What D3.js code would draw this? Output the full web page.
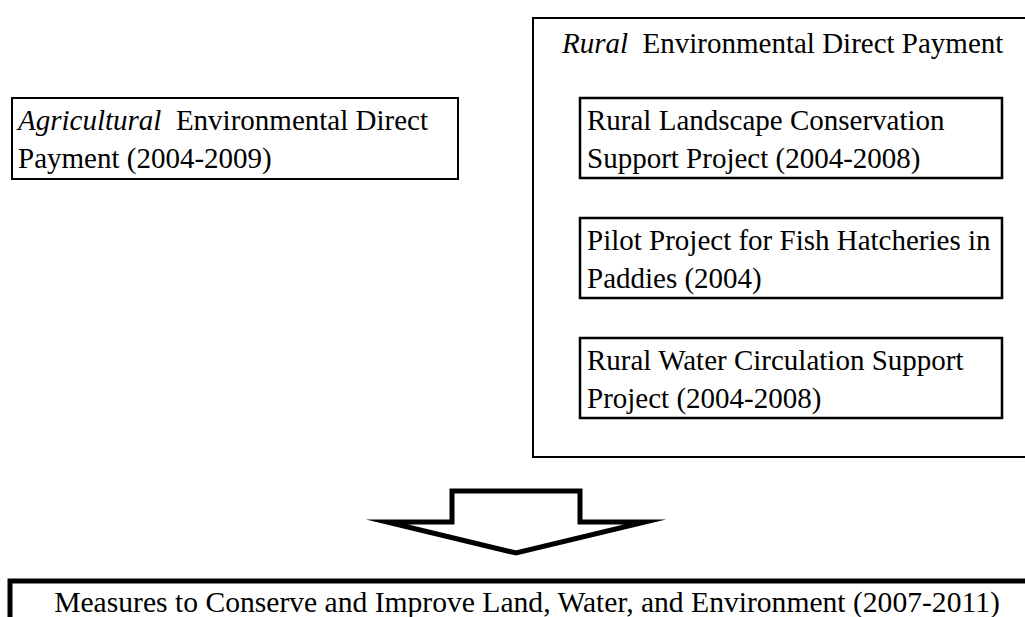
<!DOCTYPE html>
<html>
<head>
<meta charset="utf-8">
<script src="https://cdn.jsdelivr.net/npm/d3@7"></script>
<style>
    body { margin: 0; background: #fff; }
    text { font-family: "Liberation Serif", "Times New Roman", serif; font-size: 29px; fill: #000; }
</style>
</head>
<body>
<div id="diagram"></div>
<script>
// left-hand programme (first word italic)
const agriLines = [
    [{ t: "Agricultural", it: true }, { t: "  Environmental Direct", it: false }],
    [{ t: "Payment (2004-2009)", it: false }]
];

// right-hand group heading
const ruralTitle = [{ t: "Rural", it: true }, { t: "  Environmental Direct Payment", it: false }];

// projects inside the rural group
const ruralProjects = [
    ["Rural Landscape Conservation", "Support Project (2004-2008)"],
    ["Pilot Project for Fish Hatcheries in", "Paddies (2004)"],
    ["Rural Water Circulation Support", "Project (2004-2008)"]
];

// successor measure
const successor = "Measures to Conserve and Improve Land, Water, and Environment (2007-2011)";

const width = 1025;
const height = 617;

const svg = d3.select("#diagram")
    .append("svg")
    .attr("width", width)
    .attr("height", height);

function addLine(g, parts, x, y) {
    const t = g.append("text")
        .attr("x", x)
        .attr("y", y)
        .attr("xml:space", "preserve")
        .style("white-space", "pre");
    parts.forEach(p => {
        t.append("tspan")
            .style("font-style", p.it ? "italic" : "normal")
            .text(p.t);
    });
}

// Agricultural box
const agri = svg.append("g");
agri.append("rect")
    .attr("x", 12).attr("y", 98)
    .attr("width", 446).attr("height", 81)
    .attr("fill", "none").attr("stroke", "#000").attr("stroke-width", 2);
agriLines.forEach((parts, i) => addLine(agri, parts, 18, 130 + i * 38));

// Rural outer box, open on the right
const rural = svg.append("g");
rural.append("path")
    .attr("d", "M1030,18 H533 V457 H1030")
    .attr("fill", "none").attr("stroke", "#000").attr("stroke-width", 2);
addLine(rural, ruralTitle, 562, 53);

const yBox = d3.scalePoint()
    .domain(d3.range(ruralProjects.length))
    .range([98, 338]);

const proj = rural.selectAll(".proj")
    .data(ruralProjects)
    .enter().append("g")
    .attr("class", "proj")
    .attr("transform", (d, i) => `translate(580,${yBox(i)})`);

proj.append("rect")
    .attr("width", 422).attr("height", 80)
    .attr("fill", "none").attr("stroke", "#000").attr("stroke-width", 2.5);

proj.selectAll("text")
    .data(d => d)
    .enter().append("text")
    .attr("x", 7)
    .attr("y", (d, i) => 32 + i * 38)
    .text(d => d);

// Block arrow pointing down
const cx = 516;
const arrow = [
    [cx - 64, 491], [cx + 64, 491], [cx + 64, 522], [cx + 129, 522],
    [cx, 553], [cx - 129, 522], [cx - 64, 522]
];
svg.append("path")
    .attr("d", d3.line()(arrow) + "Z")
    .attr("fill", "#fff")
    .attr("stroke", "#000")
    .attr("stroke-width", 5)
    .attr("stroke-linejoin", "miter")
    .attr("stroke-miterlimit", 12);

// Successor box (cut off by the bottom edge)
svg.append("path")
    .attr("d", "M10,630 V581 H1035")
    .attr("fill", "none").attr("stroke", "#000").attr("stroke-width", 5);

svg.append("text")
    .attr("x", 527)
    .attr("y", 612)
    .attr("text-anchor", "middle")
    .style("font-size", "29.6px")
    .text(successor);
</script>
</body>
</html>
